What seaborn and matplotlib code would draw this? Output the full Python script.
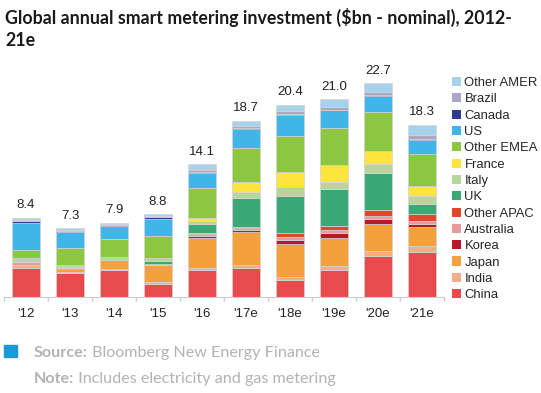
import matplotlib

matplotlib.use("Agg")
import matplotlib.pyplot as plt
import numpy as np
import pandas as pd
import seaborn as sns
from matplotlib.patches import Patch

# カテゴリ（年）と合計ラベル
years = ["'12", "'13", "'14", "'15", "'16", "'17e", "'18e", "'19e", "'20e", "'21e"]
totals = [8.4, 7.3, 7.9, 8.8, 14.1, 18.7, 20.4, 21.0, 22.7, 18.3]

# 地域別投資額（$bn）、画像から読み取り
china = [3.05, 2.50, 2.85, 1.40, 2.90, 3.10, 1.80, 2.85, 4.40, 4.80]
india = [0.30, 0.20, 0.10, 0.15, 0.15, 0.25, 0.35, 0.40, 0.50, 0.65]
japan = [0.00, 0.25, 0.95, 1.85, 3.20, 3.55, 3.50, 3.05, 2.90, 2.00]
korea = [0.00, 0.10, 0.00, 0.00, 0.25, 0.25, 0.40, 0.50, 0.50, 0.30]
australia = [0.40, 0.10, 0.00, 0.15, 0.15, 0.20, 0.35, 0.35, 0.35, 0.35]
other_apac = [0.00, 0.00, 0.00, 0.00, 0.10, 0.10, 0.35, 0.40, 0.55, 0.70]
uk = [0.00, 0.00, 0.00, 0.30, 1.05, 3.10, 4.00, 3.90, 4.00, 1.05]
italy = [0.40, 0.30, 0.35, 0.25, 0.30, 0.60, 0.90, 0.80, 0.90, 0.85]
france = [0.00, 0.00, 0.00, 0.00, 0.30, 1.10, 1.65, 1.75, 1.40, 1.05]
other_emea = [0.85, 1.80, 1.95, 2.35, 3.15, 3.60, 3.80, 3.90, 4.10, 3.40]
us = [2.85, 1.65, 1.30, 1.85, 1.65, 2.00, 2.25, 1.90, 1.70, 1.50]
canada = [0.20, 0.15, 0.15, 0.15, 0.10, 0.10, 0.10, 0.10, 0.10, 0.10]
brazil = [0.15, 0.10, 0.10, 0.20, 0.15, 0.25, 0.30, 0.30, 0.40, 0.50]
other_amer = [0.20, 0.15, 0.15, 0.15, 0.65, 0.50, 0.65, 0.80, 0.90, 1.05]

regions = ["Other AMER", "Brazil", "Canada", "US", "Other EMEA", "France", "Italy",
           "UK", "Other APAC", "Australia", "Korea", "Japan", "India", "China"]
series = [other_amer, brazil, canada, us, other_emea, france, italy,
          uk, other_apac, australia, korea, japan, india, china]
colors = ["#a6d3ea", "#aaa7c9", "#2e3b8e", "#3fb5e8", "#8dc641", "#fde53c", "#b6d69b",
          "#3aa877", "#e1472b", "#e99a9b", "#b8182b", "#f2a13d", "#f1ad8c", "#e84b4b"]

rows = []
for name, vals in zip(regions, series):
    for i, v in enumerate(vals):
        rows.append({"idx": i, "region": name, "value": v})
df = pd.DataFrame(rows)

sns.set_theme(style="white")
plt.rcParams["font.family"] = ["Liberation Sans", "DejaVu Sans"]

fig = plt.figure(figsize=(5.41, 3.93), dpi=100)
W, H = 541, 393
ax = fig.add_axes([4 / W, 96 / H, 440 / W, 235.5 / H])

sns.histplot(
    data=df, x="idx", weights="value", hue="region", hue_order=regions,
    palette=dict(zip(regions, colors)), multiple="stack", discrete=True,
    shrink=0.62, alpha=1.0, edgecolor="#d4d4d4", linewidth=0.5, legend=False, ax=ax,
)

ax.set_xlim(-0.5, len(years) - 0.5)
ax.set_ylim(0, 25)
ax.set_xlabel("")
ax.set_ylabel("")
ax.set_yticks([])
ax.set_xticks(np.arange(len(years)))
ax.set_xticklabels(years, fontsize=9.5, color="#222222")
ax.set_xticks(np.arange(len(years) + 1) - 0.5, minor=True)
ax.tick_params(axis="x", which="major", length=0, pad=8)
ax.tick_params(axis="x", which="minor", length=3, color="#cccccc", bottom=True)
for side in ["left", "right", "top"]:
    ax.spines[side].set_visible(False)
ax.spines["bottom"].set_color("#cccccc")
ax.spines["bottom"].set_linewidth(0.8)
ax.set_facecolor("none")

for i, t in enumerate(totals):
    ax.text(i, t + 0.7, f"{t:.1f}", ha="center", va="bottom", fontsize=9.5, color="#222222")

handles = [Patch(facecolor=c, edgecolor="none") for c in colors]
fig.legend(
    handles, regions, loc="upper left", bbox_to_anchor=(452 / W, 1 - 77 / H),
    frameon=False, fontsize=9.4, handlelength=0.7, handleheight=0.7,
    handletextpad=0.25, labelspacing=0.32, borderpad=0, borderaxespad=0,
)

# タイトル
fig.text(5 / W, 1 - 17 / H, "Global annual smart metering investment ($bn - nominal), 2012-",
         fontsize=12.8, fontweight="bold", family="Lato", color="#1a1a1a", va="center")
fig.text(5 / W, 1 - 40 / H, "21e", fontsize=12.8, fontweight="bold", family="Lato",
         color="#1a1a1a", va="center")

# 出典・注記
fig.patches.append(matplotlib.patches.Rectangle((4 / W, 1 - 357 / H), 13 / W, 12 / H,
                                                transform=fig.transFigure, color="#1b9ad8"))
grey = "#b3b3b3"
fig.canvas.draw()
renderer = fig.canvas.get_renderer()
for y, bold, rest in [(353, "Source:", " Bloomberg New Energy Finance"),
                      (379, "Note:", " Includes electricity and gas metering")]:
    t = fig.text(34 / W, 1 - y / H, bold, fontsize=11.6, fontweight="bold", family="Lato",
                 color=grey, va="center")
    bb = t.get_window_extent(renderer)
    fig.text(bb.x1 / W, 1 - y / H, rest, fontsize=11.6, family="Lato", color=grey, va="center")

fig.savefig("out.png", dpi=100)
